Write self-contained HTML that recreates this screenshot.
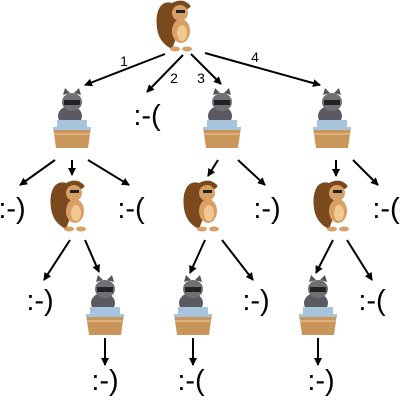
<!DOCTYPE html>
<html><head><style>html,body{margin:0;padding:0;background:#fff}svg{display:block}</style></head>
<body>
<svg width="400" height="400" viewBox="0 0 400 400" xmlns="http://www.w3.org/2000/svg" font-family="Liberation Sans, sans-serif">
<defs>
<marker id="a" markerWidth="8" markerHeight="8" refX="7" refY="4" orient="auto" markerUnits="userSpaceOnUse">
<path d="M0,0 L8,4 L0,8 z" fill="#000"/></marker>
<g id="beaver">
<path d="M-4,-24 C-18,-28 -22,-10 -18,6 C-15,16 -8,20 -4,22 L2,6 L4,-14 C12,-18 16,-20 14,-22 C8,-28 2,-27 -4,-24z" fill="#7a4a1e"/>
<ellipse cx="4" cy="-14" rx="8" ry="8" fill="#d9a066"/>
<ellipse cx="5" cy="4" rx="9" ry="12" fill="#d9a066"/>
<ellipse cx="6" cy="6" rx="5" ry="8" fill="#f0c890"/>
<rect x="0" y="-17" width="9" height="3" fill="#222"/>
<ellipse cx="-1" cy="22" rx="5" ry="2.5" fill="#d9a066"/>
<ellipse cx="11" cy="22" rx="5" ry="2.5" fill="#d9a066"/>
</g>
<g id="rac">
<ellipse cx="-2" cy="-4" rx="12" ry="10" fill="#5a5a60"/>
<ellipse cx="0" cy="-18" rx="10" ry="9" fill="#6f6f75"/>
<path d="M-9,-25 l2,-7 l5,5z M9,-25 l-2,-7 l-5,5z" fill="#555"/>
<rect x="-8" y="-20" width="16" height="5" fill="#222"/>
<rect x="-15" y="0" width="30" height="10" fill="#a8c4dc"/>
<path d="M-19,7 L19,7 L16,28 L-16,28z" fill="#c8965a"/>
<rect x="-19" y="7" width="38" height="3" fill="#a8c4dc"/>
<rect x="-18" y="13" width="36" height="2" fill="#e0b07a"/>
</g>
</defs>
<g stroke="#000" stroke-width="2" marker-end="url(#a)">
<line x1="165" y1="54" x2="85" y2="85"/>
<line x1="183" y1="55" x2="147" y2="92"/>
<line x1="191" y1="54" x2="221" y2="84"/>
<line x1="205" y1="53" x2="320" y2="85"/>
<line x1="55" y1="160" x2="20" y2="185"/>
<line x1="72" y1="160" x2="72" y2="175"/>
<line x1="88" y1="160" x2="129" y2="185"/>
<line x1="218" y1="160" x2="208" y2="176"/>
<line x1="238" y1="160" x2="265" y2="185"/>
<line x1="336" y1="160" x2="336" y2="176"/>
<line x1="353" y1="160" x2="378" y2="185"/>
<line x1="70" y1="240" x2="44" y2="280"/>
<line x1="85" y1="240" x2="99" y2="272"/>
<line x1="205" y1="240" x2="190" y2="273"/>
<line x1="222" y1="240" x2="253" y2="280"/>
<line x1="333" y1="240" x2="316" y2="273"/>
<line x1="347" y1="240" x2="372" y2="280"/>
<line x1="105" y1="338" x2="105" y2="365"/>
<line x1="193" y1="338" x2="193" y2="365"/>
<line x1="318" y1="338" x2="318" y2="365"/>
</g>
<g font-size="14" fill="#000" text-anchor="middle">
<text x="124" y="66">1</text><text x="174" y="83">2</text><text x="201" y="83">3</text><text x="255" y="62">4</text>
</g>
<use href="#beaver" x="176" y="27"/>
<use href="#rac" x="72" y="120"/>
<use href="#rac" x="222" y="120"/>
<use href="#rac" x="332" y="120"/>
<use href="#beaver" x="70" y="207"/>
<use href="#beaver" x="203" y="207"/>
<use href="#beaver" x="333" y="207"/>
<use href="#rac" x="105" y="307"/>
<use href="#rac" x="193" y="307"/>
<use href="#rac" x="318" y="307"/>
<g font-size="29" fill="#000" text-anchor="middle">
<text x="147" y="125">:-(</text>
<text x="12" y="218">:-)</text>
<text x="131" y="218">:-(</text>
<text x="267" y="218">:-)</text>
<text x="386" y="218">:-(</text>
<text x="40" y="310">:-)</text>
<text x="256" y="310">:-)</text>
<text x="372" y="310">:-(</text>
<text x="105" y="390">:-)</text>
<text x="191" y="390">:-(</text>
<text x="321" y="390">:-)</text>
</g>
</svg>
</body></html>
